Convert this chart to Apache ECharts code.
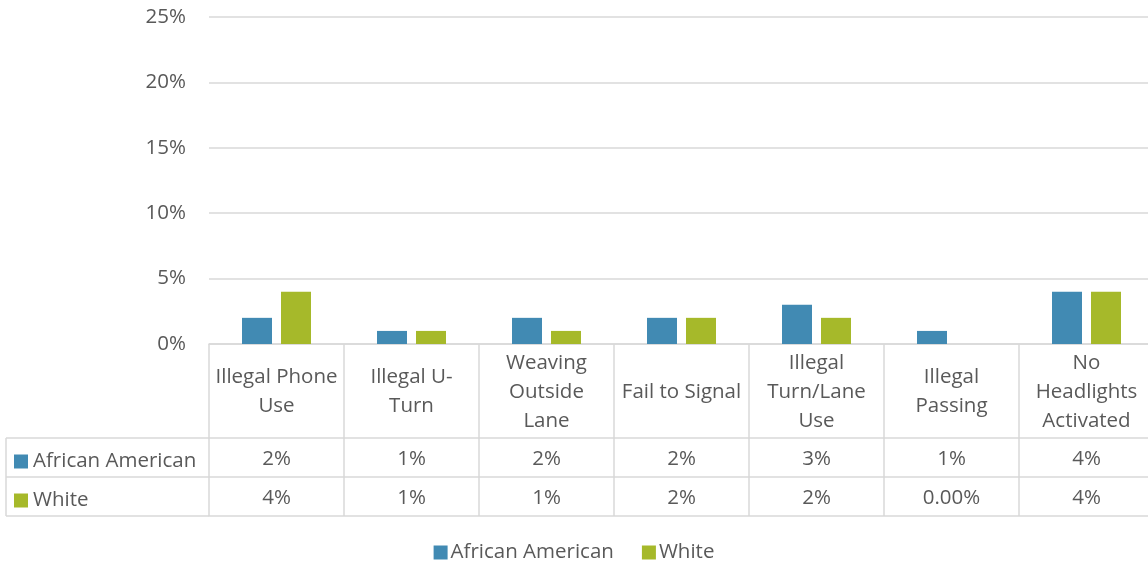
<!DOCTYPE html>
<html><head><meta charset="utf-8">
<script src="https://cdn.jsdelivr.net/npm/echarts@6/dist/echarts.min.js"></script>
<style>html,body{margin:0;padding:0;background:#fff}#c{width:1148px;height:566px}</style>
</head><body><div id="c"></div>
<script>
const categories = ['Illegal Phone\nUse','Illegal U-\nTurn','Weaving\nOutside\nLane','Fail to Signal','Illegal\nTurn/Lane\nUse','Illegal\nPassing','No\nHeadlights\nActivated'];
const seriesNames = ['African American','White'];
const africanAmerican = [2,1,2,2,3,1,4];
const white = [4,1,1,2,2,0,4];
const tableAA = ['2%','1%','2%','2%','3%','1%','4%'];
const tableWhite = ['4%','1%','1%','2%','2%','0.00%','4%'];
const yTicks = [0,5,10,15,20,25];

const FONT = '"Open Sans", sans-serif';
const FS = 20.5;
const TXT = '#595959';
const LINE = '#d9d9d9';
const BLUE = '#418ab3';
const GREEN = '#a6b92a';

const chart = echarts.init(document.getElementById('c'));
const gridLeft = 209, gridBottom = 222;
const baseAxis = {type:'category', data:categories, position:'bottom', axisPointer:{show:false}};
const legendText = {fontSize:FS, color:TXT, fontFamily:FONT};
chart.setOption({
  animation:false,
  textStyle:{fontFamily:FONT, color:TXT},
  grid:{left:gridLeft, right:-6, top:17, bottom:gridBottom, containLabel:false, outerBoundsMode:'none'},
  legend:[
    {data:[seriesNames[0]], left:9, top:446, itemWidth:14, itemHeight:14, selectedMode:false, icon:'rect', textStyle:legendText},
    {data:[seriesNames[1]], left:9, top:485, itemWidth:14, itemHeight:14, selectedMode:false, icon:'rect', textStyle:legendText},
    {data:seriesNames, left:'center', top:537, itemWidth:14, itemHeight:14, itemGap:28, selectedMode:false, icon:'rect', textStyle:Object.assign({}, legendText, {padding:[0,0,0,-2]})}
  ],
  xAxis:[
    Object.assign({}, baseAxis, {
      axisLine:{show:true, lineStyle:{color:LINE, width:1.5}},
      axisTick:{show:true, interval:0, length:172, lineStyle:{color:LINE, width:1.5}},
      axisLabel:{interval:0, margin:48, verticalAlign:'middle', fontSize:FS, lineHeight:29, color:TXT, fontFamily:FONT}
    }),
    Object.assign({}, baseAxis, {
      offset:94,
      axisLine:{show:true, lineStyle:{color:LINE, width:1.5}},
      axisTick:{show:false},
      axisLabel:{interval:0, margin:21, verticalAlign:'middle', fontSize:FS, color:TXT, fontFamily:FONT, formatter:(v,i)=>tableAA[i]}
    }),
    Object.assign({}, baseAxis, {
      offset:133,
      axisLine:{show:true, lineStyle:{color:LINE, width:1.5}},
      axisTick:{show:false},
      axisLabel:{interval:0, margin:21, verticalAlign:'middle', fontSize:FS, color:TXT, fontFamily:FONT, formatter:(v,i)=>tableWhite[i]}
    }),
    Object.assign({}, baseAxis, {
      offset:172,
      axisLine:{show:true, lineStyle:{color:LINE, width:1.5}},
      axisTick:{show:false},
      axisLabel:{show:false}
    })
  ],
  yAxis:{type:'value', min:yTicks[0], max:yTicks[yTicks.length-1], interval:5,
    axisLine:{show:false}, axisTick:{show:false},
    splitLine:{lineStyle:{color:LINE, width:1.5}},
    axisLabel:{margin:23, fontSize:FS, color:TXT, fontFamily:FONT, formatter:v=>v+'%'}
  },
  series:[
    {name:seriesNames[0], type:'bar', data:africanAmerican, barWidth:30, barGap:'30%', itemStyle:{color:BLUE}},
    {name:seriesNames[1], type:'bar', data:white, barWidth:30, barGap:'30%', itemStyle:{color:GREEN}}
  ],
  graphic:[
    {type:'line', shape:{x1:6, y1:438, x2:gridLeft, y2:438}, style:{stroke:LINE, lineWidth:1.5}},
    {type:'line', shape:{x1:6, y1:477, x2:gridLeft, y2:477}, style:{stroke:LINE, lineWidth:1.5}},
    {type:'line', shape:{x1:6, y1:516, x2:gridLeft, y2:516}, style:{stroke:LINE, lineWidth:1.5}},
    {type:'line', shape:{x1:6, y1:438, x2:6, y2:516}, style:{stroke:LINE, lineWidth:1.5}}
  ]
});
</script></body></html>
